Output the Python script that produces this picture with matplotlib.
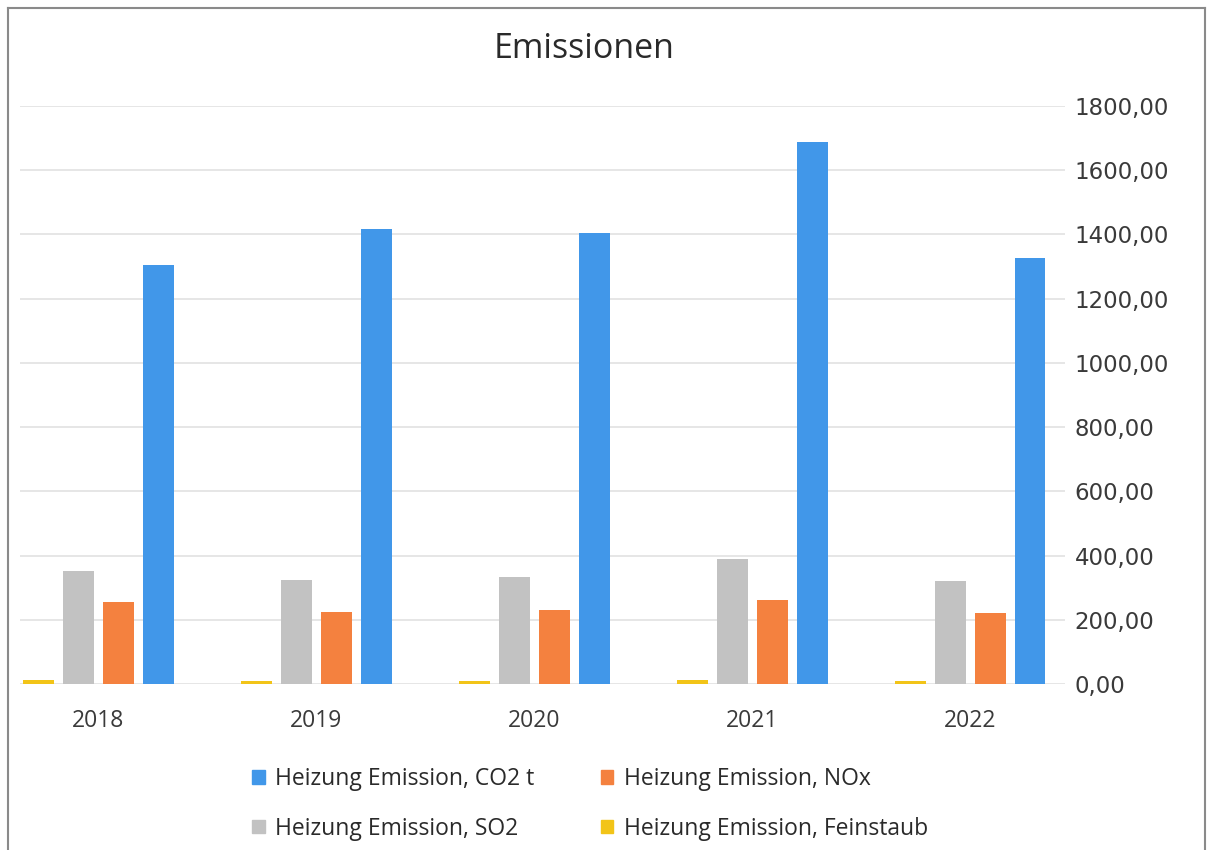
import matplotlib
matplotlib.use("Agg")
import matplotlib.pyplot as plt
from matplotlib.patches import Patch
from matplotlib.lines import Line2D
import numpy as np

years = ["2018", "2019", "2020", "2021", "2022"]
co2 = [1304, 1418, 1405, 1688, 1328]
nox = [256, 224, 230, 263, 222]
so2 = [352, 323, 333, 388, 321]
feinstaub = [12, 9, 9, 14, 9]

labels = {
    "co2": "Heizung Emission, CO2 t",
    "nox": "Heizung Emission, NOx",
    "so2": "Heizung Emission, SO2",
    "fs": "Heizung Emission, Feinstaub",
}
colors = {"co2": "#4197E9", "nox": "#F4813F", "so2": "#C2C2C2", "fs": "#F2C418"}
yticks = [0, 200, 400, 600, 800, 1000, 1200, 1400, 1600, 1800]
ytick_labels = ["0,00", "200,00", "400,00", "600,00", "800,00", "1000,00",
                "1200,00", "1400,00", "1600,00", "1800,00"]

plt.rcParams["font.family"] = ["Open Sans", "DejaVu Sans"]

fig = plt.figure(figsize=(12.1, 8.5), dpi=100)
ax = fig.add_axes([20 / 1210, 1 - 684 / 850, (1065 - 20) / 1210, (684 - 106) / 850])

x = np.arange(len(years))
step = 0.183
width = 0.142
series = [("fs", feinstaub), ("so2", so2), ("nox", nox), ("co2", co2)]
for i, (key, vals) in enumerate(series):
    ax.bar(x + (i - 1.5) * step, vals, width=width, color=colors[key],
           label=labels[key], zorder=3)

ax.set_xlim(-0.359, 4.435)
ax.set_ylim(0, 1800)
ax.set_yticks(yticks)
ax.set_yticklabels(ytick_labels, family=["DejaVu Sans"], fontsize=16.5)
ax.yaxis.tick_right()
ax.set_xticks(x)
ax.set_xticklabels(years, fontsize=16.5)
ax.tick_params(axis="both", length=0, labelcolor="#3a3a3a")
ax.tick_params(axis="y", pad=7)
ax.tick_params(axis="x", pad=18)
ax.grid(axis="y", color="#e2e2e2", linewidth=1.2, zorder=0)
for s in ax.spines.values():
    s.set_visible(False)

fig.text(584 / 1210, 1 - 58 / 850, "Emissionen", ha="center", va="baseline",
         fontsize=24.5, color="#2a2a2a")

handles = [Patch(color=colors[k]) for k in ["co2", "so2", "nox", "fs"]]
leg_labels = [labels[k] for k in ["co2", "so2", "nox", "fs"]]
fig.legend(handles, leg_labels, ncol=2, loc="center", frameon=False,
           bbox_to_anchor=(590 / 1210, 1 - 804 / 850), fontsize=16.5,
           handlelength=0.55, handleheight=0.55, handletextpad=0.45,
           columnspacing=2.9, labelspacing=1.1, labelcolor="#2a2a2a")

# scan frame
for (xs, ys) in [([8, 8], [850, 8]), ([8, 1205], [8, 8]), ([1205, 1205], [8, 850])]:
    fig.add_artist(Line2D([v / 1210 for v in xs], [1 - v / 850 for v in ys],
                          color="#8a8a8a", linewidth=1.5))

fig.savefig("out.png", dpi=100, facecolor="white")
